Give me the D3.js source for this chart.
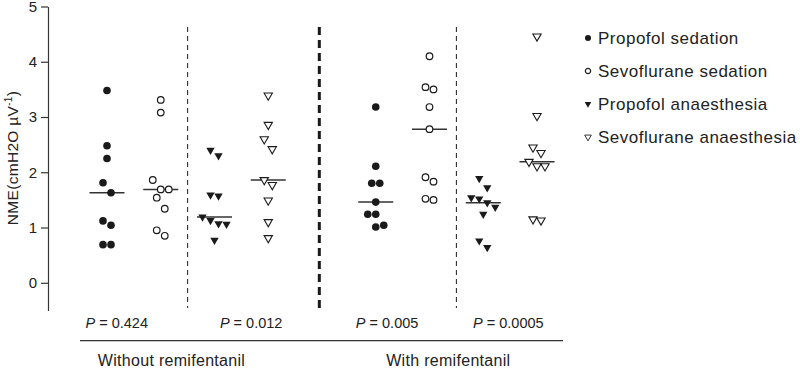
<!DOCTYPE html>
<meta charset="utf-8" />
<head>
  <style>
    body { margin: 0; background: #fff; }
    svg text { font-family: "Liberation Sans", Arial, sans-serif; fill: #222; }
    .tick line, .domain { stroke: #333; }
  </style>
  <script src="https://d3js.org/d3.v7.min.js"></script>
</head>
<body>
  <svg id="chart" width="800" height="368"></svg>
  <script>
    // NME values, one array per column (9 patients each)
    const groups = ["Propofol sedation", "Sevoflurane sedation", "Propofol anaesthesia", "Sevoflurane anaesthesia"];
    const conditions = ["Without remifentanil", "With remifentanil"];
    const pValues = ["0.424", "0.012", "0.005", "0.0005"];
    const yTicks = [0, 1, 2, 3, 4, 5];

    const propSedNoRemi = [3.48, 2.48, 2.25, 1.81, 1.63, 1.12, 1.04, 0.69, 0.69];
    const sevoSedNoRemi = [3.31, 3.08, 1.86, 1.69, 1.69, 1.54, 1.34, 0.95, 0.85];
    const propAnaNoRemi = [2.40, 2.30, 1.59, 1.57, 1.19, 1.13, 1.07, 1.06, 0.77];
    const sevoAnaNoRemi = [3.39, 2.86, 2.60, 2.42, 1.86, 1.77, 1.49, 1.10, 0.81];
    const propSedRemi = [3.18, 2.11, 1.80, 1.80, 1.46, 1.24, 1.24, 1.04, 1.01];
    const sevoSedRemi = [4.10, 3.54, 3.50, 3.18, 2.78, 1.91, 1.83, 1.52, 1.50];
    const propAnaRemi = [1.89, 1.72, 1.54, 1.52, 1.45, 1.37, 1.24, 0.76, 0.64];
    const sevoAnaRemi = [4.46, 3.02, 2.45, 2.35, 2.19, 2.11, 2.11, 1.15, 1.13];

    // column order on the x axis (slot 4 is left empty as the gap)
    const columns = [
      { slot: 0, group: 0, values: propSedNoRemi },
      { slot: 1, group: 1, values: sevoSedNoRemi },
      { slot: 2, group: 2, values: propAnaNoRemi },
      { slot: 3, group: 3, values: sevoAnaNoRemi },
      { slot: 5, group: 0, values: propSedRemi },
      { slot: 6, group: 1, values: sevoSedRemi },
      { slot: 7, group: 2, values: propAnaRemi },
      { slot: 8, group: 3, values: sevoAnaRemi },
    ];

    ////////// scales //////////
    const svg = d3.select("#chart");
    const x = d3.scaleLinear().domain([0, 8]).range([107, 537]);
    const y = d3.scaleLinear().domain([-0.5, 5]).range([310.4, 6.5]);
    const ink = "#1a1a1a";

    // y axis
    svg.append("g")
      .attr("transform", "translate(48,0)")
      .call(d3.axisLeft(y).tickValues(yTicks).tickFormat(d3.format("d"))
        .tickSize(7).tickSizeOuter(0).tickPadding(4))
      .call(g => g.selectAll("text").attr("font-size", 15).style("fill", "#222"))
      .call(g => g.selectAll("line, path").attr("stroke-width", 1.2));

    svg.append("text")
      .attr("transform", "translate(18,158) rotate(-90)")
      .attr("text-anchor", "middle")
      .attr("font-size", 15.5)
      .attr("letter-spacing", 0.3)
      .call(t => {
        t.append("tspan").text("NME(cmH2O µV");
        t.append("tspan").attr("font-size", 10).attr("dy", -6).text("-1");
        t.append("tspan").attr("dy", 6).text(")");
      });

    // separators
    [[1.5, 1, "5,4"], [3.95, 3, "8,5"], [6.5, 1, "5,4"]].forEach(([s, w, dash]) => {
      svg.append("line")
        .attr("x1", x(s)).attr("x2", x(s))
        .attr("y1", 27).attr("y2", 308)
        .attr("stroke", ink).attr("stroke-width", w)
        .attr("stroke-dasharray", dash);
    });

    ////////// markers //////////
    const triangle = d3.symbol().type(d3.symbolTriangle).size(30);
    function drawMarker(sel, group, cx, cy, scale) {
      const k = scale || 1;
      if (group < 2) {
        sel.append("circle")
          .attr("cx", cx).attr("cy", cy)
          .attr("r", (group === 0 ? 3.8 : 3.3) * k)
          .attr("fill", group === 0 ? ink : "#fff")
          .attr("stroke", ink).attr("stroke-width", group === 0 ? 0 : 1.2);
      } else {
        sel.append("path")
          .attr("d", triangle)
          .attr("transform", `translate(${cx},${cy}) rotate(180) scale(${k})`)
          .attr("fill", group === 2 ? ink : "#fff")
          .attr("stroke", ink).attr("stroke-width", group === 2 ? 0 : 1.1);
      }
    }

    // spread points that share a value band side by side
    function dodge(values) {
      const sorted = values.slice().sort((a, b) => b - a);
      const clusters = [];
      sorted.forEach(v => {
        const last = clusters[clusters.length - 1];
        if (last && last[0] - v < 0.2) last.push(v);
        else clusters.push([v]);
      });
      const out = [];
      clusters.forEach(c => c.forEach((v, i) => out.push({ v, dx: (i - (c.length - 1) / 2) * 8 })));
      return out;
    }

    const plot = svg.append("g");
    columns.forEach(col => {
      const cx = x(col.slot);
      const med = d3.median(col.values);
      plot.append("line")
        .attr("x1", cx - 17.5).attr("x2", cx + 17.5)
        .attr("y1", y(med)).attr("y2", y(med))
        .attr("stroke", "#333").attr("stroke-width", 1.5);
      dodge(col.values).forEach(p => drawMarker(plot, col.group, cx + p.dx, y(p.v)));
    });

    ////////// P values and conditions //////////
    const pSlots = [-0.4, 2.1, 4.63, 6.81];
    pValues.forEach((p, i) => {
      const t = svg.append("text")
        .attr("x", x(pSlots[i])).attr("y", 328)
        .attr("font-size", 14.5);
      t.append("tspan").attr("font-style", "italic").text("P");
      t.append("tspan").text(" = " + p);
    });

    svg.append("line")
      .attr("x1", 80).attr("x2", 563)
      .attr("y1", 340.7).attr("y2", 340.7)
      .attr("stroke", "#333").attr("stroke-width", 1.2);

    [1.2, 6.35].forEach((s, i) => {
      svg.append("text")
        .attr("x", x(s)).attr("y", 366)
        .attr("text-anchor", "middle")
        .attr("font-size", 16)
        .attr("letter-spacing", 0.3)
        .text(conditions[i]);
    });

    ////////// legend //////////
    const legend = svg.append("g").attr("transform", "translate(588,38)");
    groups.forEach((g, i) => {
      const row = legend.append("g").attr("transform", `translate(0,${i * 33})`);
      drawMarker(row, i, 0, 0, 0.8);
      row.append("text")
        .attr("x", 10).attr("y", 0).attr("dy", "0.36em")
        .attr("font-size", 17)
        .attr("letter-spacing", 0.5)
        .text(g);
    });
  </script>
</body>
